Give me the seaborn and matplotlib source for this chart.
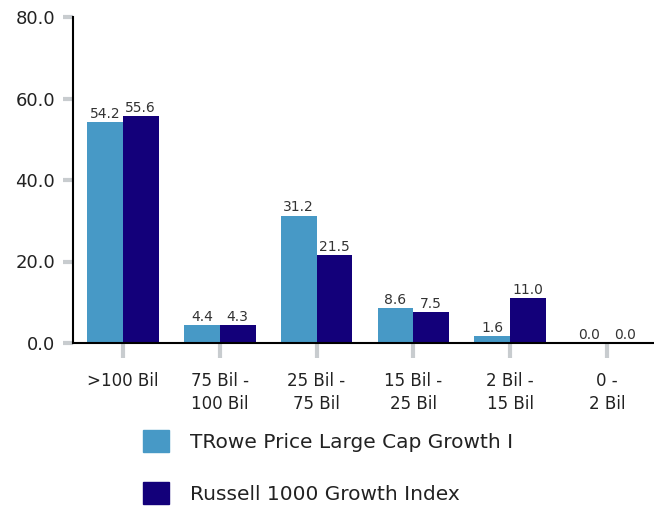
import pandas as pd
import seaborn as sns
import matplotlib.pyplot as plt

# Datos
categorias = ['>100 Bil', '75 Bil -\n100 Bil', '25 Bil -\n75 Bil', '15 Bil -\n25 Bil', '2 Bil -\n15 Bil', '0 -\n2 Bil']
fondo = [54.2, 4.4, 31.2, 8.6, 1.6, 0.0]
indice = [55.6, 4.3, 21.5, 7.5, 11.0, 0.0]
series = ['TRowe Price Large Cap Growth I', 'Russell 1000 Growth Index']
colores = ['#4799C6', '#13007A']

df = pd.DataFrame({
    'Cap': categorias * 2,
    'Valor': fondo + indice,
    'Serie': [series[0]] * len(categorias) + [series[1]] * len(categorias),
})

sns.set_style('white')
plt.rcParams['font.family'] = ['DejaVu Sans']

fig = plt.figure(figsize=(6.54, 5.12), dpi=100)
ax = fig.add_axes([73 / 654, 1 - 343 / 512, 1 - 73 / 654, (343 - 17) / 512])

sns.barplot(data=df, x='Cap', y='Valor', hue='Serie', palette=colores,
            width=0.74, saturation=1, linewidth=0, ax=ax)

for cont in ax.containers:
    ax.bar_label(cont, fmt='%.1f', padding=1, fontsize=10, color='#333333')

ax.set_xlim(-0.515, 5.485)
ax.set_ylim(0, 80)
ax.set_yticks([0, 20, 40, 60, 80])
ax.set_yticklabels([f'{v:.1f}' for v in [0, 20, 40, 60, 80]])
ax.set_xlabel('')
ax.set_ylabel('')
for lbl in ax.get_xticklabels():
    lbl.set_linespacing(1.35)

for s in ['top', 'right']:
    ax.spines[s].set_visible(False)
for s in ['left', 'bottom']:
    ax.spines[s].set_color('black')
    ax.spines[s].set_linewidth(1.5)

ax.tick_params(axis='y', direction='out', length=7, width=3, color='#C8CCCF',
               pad=6, labelsize=13, labelcolor='#222222', left=True)
ax.tick_params(axis='x', direction='out', length=11, width=3, color='#C8CCCF',
               pad=10, labelsize=12, labelcolor='#222222', bottom=True)

ax.get_legend().remove()
handles = [plt.Rectangle((0, 0), 1, 1, color=c) for c in colores]
fig.legend(handles, series, loc='upper left',
           bbox_to_anchor=(143 / 654, 1 - 430 / 512), bbox_transform=fig.transFigure,
           frameon=False, fontsize=14.5, handlelength=1.3, handleheight=1.3,
           handletextpad=1.05, labelspacing=1.5, borderpad=0, borderaxespad=0,
           labelcolor='#222222')

plt.savefig('out.png', dpi=100)
